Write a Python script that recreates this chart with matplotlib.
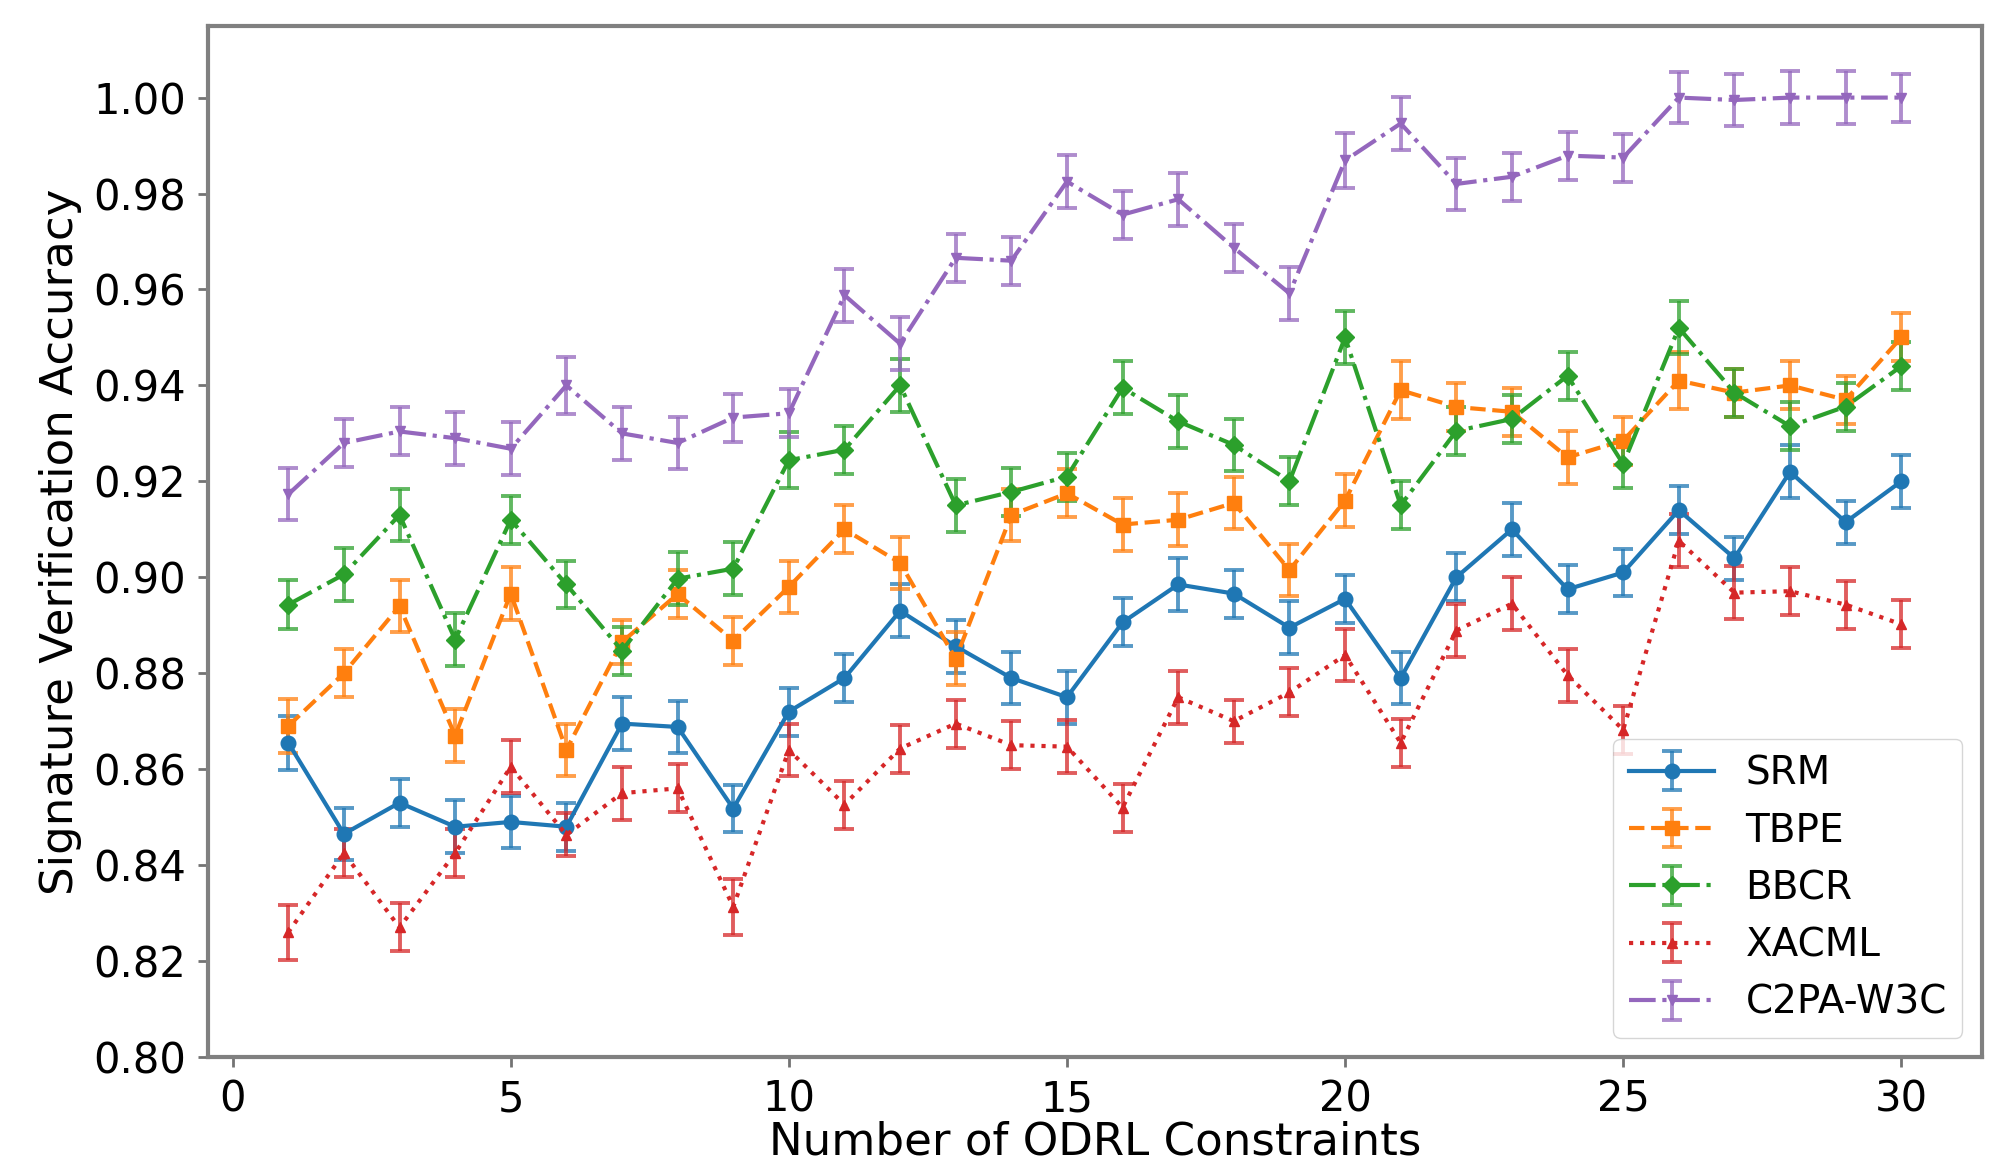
import matplotlib
matplotlib.use("Agg")
import matplotlib.pyplot as plt
import numpy as np

x = list(range(1, 31))

srm = [0.8655, 0.8465, 0.853, 0.848, 0.849, 0.848, 0.8695, 0.8688, 0.8518, 0.872,
       0.879, 0.893, 0.8856, 0.879, 0.875, 0.8906, 0.8985, 0.8966, 0.8895, 0.8955,
       0.879, 0.900, 0.910, 0.8975, 0.901, 0.914, 0.904, 0.922, 0.9115, 0.920]
tbpe = [0.869, 0.880, 0.894, 0.867, 0.8966, 0.864, 0.8865, 0.8965, 0.8868, 0.898,
        0.910, 0.903, 0.883, 0.913, 0.9175, 0.911, 0.912, 0.9155, 0.9015, 0.916,
        0.939, 0.9355, 0.9345, 0.925, 0.9285, 0.941, 0.9385, 0.940, 0.937, 0.950]
bbcr = [0.8943, 0.9006, 0.913, 0.887, 0.912, 0.8985, 0.8847, 0.8997, 0.9018, 0.9244,
        0.9266, 0.940, 0.915, 0.9178, 0.921, 0.9395, 0.9325, 0.9276, 0.920, 0.950,
        0.915, 0.9305, 0.933, 0.942, 0.9236, 0.952, 0.9385, 0.9315, 0.9356, 0.944]
xacml = [0.826, 0.8425, 0.827, 0.8425, 0.8605, 0.8463, 0.855, 0.856, 0.8313, 0.864,
         0.8526, 0.8643, 0.8695, 0.865, 0.8647, 0.852, 0.875, 0.870, 0.876, 0.8838,
         0.8655, 0.8889, 0.8945, 0.8796, 0.8682, 0.9076, 0.8968, 0.8971, 0.8943, 0.8902]
c2pa = [0.9173, 0.928, 0.9304, 0.929, 0.9268, 0.940, 0.930, 0.928, 0.9333, 0.9342,
        0.9588, 0.9487, 0.9666, 0.966, 0.9825, 0.9756, 0.9788, 0.9687, 0.9592, 0.9869,
        0.9946, 0.982, 0.9835, 0.9879, 0.9875, 1.000, 0.9995, 1.000, 1.000, 1.000]

srm_err = [0.0056, 0.0055, 0.0050, 0.0055, 0.0055, 0.0050, 0.0055, 0.0055, 0.0049, 0.0050,
           0.0050, 0.0055, 0.0055, 0.0055, 0.0055, 0.0050, 0.0055, 0.0050, 0.0055, 0.0050,
           0.0055, 0.0050, 0.0055, 0.0050, 0.0050, 0.0050, 0.0045, 0.0055, 0.0045, 0.0055]
tbpe_err = [0.0056, 0.0050, 0.0055, 0.0055, 0.0055, 0.0055, 0.0045, 0.0050, 0.0050, 0.0055,
            0.0050, 0.0055, 0.0055, 0.0055, 0.0050, 0.0055, 0.0055, 0.0055, 0.0055, 0.0055,
            0.0060, 0.0050, 0.0050, 0.0055, 0.0050, 0.0060, 0.0050, 0.0050, 0.0050, 0.0050]
bbcr_err = [0.0051, 0.0055, 0.0055, 0.0055, 0.0050, 0.0050, 0.0050, 0.0055, 0.0055, 0.0058,
            0.0050, 0.0055, 0.0055, 0.0050, 0.0050, 0.0055, 0.0055, 0.0055, 0.0050, 0.0055,
            0.0050, 0.0050, 0.0050, 0.0050, 0.0050, 0.0055, 0.0050, 0.0050, 0.0050, 0.0050]
xacml_err = [0.0057, 0.0050, 0.0050, 0.0050, 0.0055, 0.0045, 0.0055, 0.0050, 0.0059, 0.0055,
             0.0050, 0.0050, 0.0050, 0.0050, 0.0055, 0.0050, 0.0055, 0.0045, 0.0050, 0.0055,
             0.0050, 0.0055, 0.0055, 0.0055, 0.0050, 0.0055, 0.0055, 0.0050, 0.0050, 0.0050]
c2pa_err = [0.0054, 0.0050, 0.0050, 0.0055, 0.0055, 0.0060, 0.0055, 0.0055, 0.0050, 0.0050,
            0.0055, 0.0055, 0.0050, 0.0050, 0.0055, 0.0050, 0.0055, 0.0050, 0.0055, 0.0057,
            0.0055, 0.0055, 0.0050, 0.0050, 0.0050, 0.0053, 0.0055, 0.0055, 0.0055, 0.0050]

labels = ["SRM", "TBPE", "BBCR", "XACML", "C2PA-W3C"]
colors = ["#1f77b4", "#ff7f0e", "#2ca02c", "#d62728", "#9467bd"]
styles = ["-", "--", "-.", ":", "-."]
markers = ["o", "s", "D", "^", "v"]
msizes = [10.5, 9.5, 9.5, 7.5, 7.5]

series = [srm, tbpe, bbcr, xacml, c2pa]
errs = [srm_err, tbpe_err, bbcr_err, xacml_err, c2pa_err]

plt.rcParams['font.family'] = ['DejaVu Sans']

fig = plt.figure(figsize=(20.06, 11.76), dpi=100)
ax = fig.add_axes([0.1035, 0.1012, 0.8845, 0.877])

for y, e, lab, c, ls, mk, ms in zip(series, errs, labels, colors, styles, markers, msizes):
    cont = ax.errorbar(x, y, yerr=e, label=lab, color=c, linestyle=ls, marker=mk,
                       markersize=ms, linewidth=3, capsize=7.5, elinewidth=2.8, capthick=2.8)
    for art in cont.lines[1]:
        art.set_alpha(0.75)
    for art in cont.lines[2]:
        art.set_alpha(0.75)

ax.set_ylim(0.80, 1.015)
ax.set_yticks(np.arange(0.80, 1.001, 0.02))
ax.set_xticks([0, 5, 10, 15, 20, 25, 30])
ax.tick_params(axis='both', labelsize=30, length=7.5, width=2, color='0.45', pad=8)
ax.set_xlabel("Number of ODRL Constraints", fontsize=32.5, labelpad=0)
ax.set_ylabel("Signature Verification Accuracy", fontsize=32.5, labelpad=8)
for sp in ax.spines.values():
    sp.set_color('0.5')
    sp.set_linewidth(3)

leg = ax.legend(loc='lower right', fontsize=28, handlelength=2.2)

fig.savefig("out.png", dpi=100)
